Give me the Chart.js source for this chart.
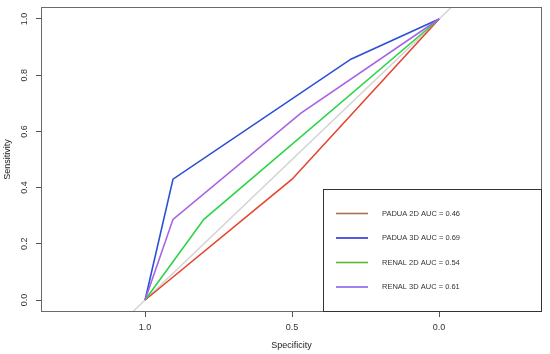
<!DOCTYPE html>
<html>
<head>
<meta charset="utf-8">
<script src="https://cdn.jsdelivr.net/npm/chart.js@4"></script>
<style>
  html, body { margin: 0; padding: 0; background: #fff; }
  canvas { display: block; }
</style>
</head>
<body>
<canvas id="rocChart" width="550" height="354"></canvas>
<script>
// series
const nombres = ["PADUA 2D", "PADUA 3D", "RENAL 2D", "RENAL 3D"];
const auc = [0.46, 0.69, 0.54, 0.61];

const padua2dSpec = [1, 0.5, 0];
const padua2dSens = [0, 0.43, 1];
const padua3dSpec = [1, 0.905, 0.3, 0];
const padua3dSens = [0, 0.43, 0.857, 1];
const renal2dSpec = [1, 0.8, 0];
const renal2dSens = [0, 0.287, 1];
const renal3dSpec = [1, 0.905, 0.47, 0];
const renal3dSens = [0, 0.287, 0.665, 1];

// linea de azar (se recorta al area)
const azarSpec = [1.4, -0.4];
const azarSens = [-0.4, 1.4];

const xTicks = [1.0, 0.5, 0.0];
const yTicks = [0.0, 0.2, 0.4, 0.6, 0.8, 1.0];

const coloresLinea = ["#e5452f", "#2a50d6", "#2bd446", "#a862e4"];
const coloresLeyenda = ["#a8724e", "#2a35d8", "#5ab53a", "#8a63e8"];

const pts = (xs, ys) => xs.map((x, i) => ({ x, y: ys[i] }));
const curvas = [
  pts(padua2dSpec, padua2dSens),
  pts(padua3dSpec, padua3dSens),
  pts(renal2dSpec, renal2dSens),
  pts(renal3dSpec, renal3dSens),
];

// caja del grafico + leyenda dentro del area
const cajaPlugin = {
  id: "caja",
  afterDraw(chart) {
    const { ctx, chartArea: a } = chart;
    ctx.save();
    ctx.strokeStyle = "#6a6a6a";
    ctx.lineWidth = 1;
    ctx.strokeRect(a.left + 0.5, a.top + 0.5, a.right - a.left - 1, a.bottom - a.top - 1);

    // leyenda
    const bx = a.right - 219;
    const by = a.bottom - 123;
    ctx.fillStyle = "#fff";
    ctx.fillRect(bx, by, 219, 123);
    ctx.strokeStyle = "#333";
    ctx.strokeRect(bx + 0.5, by + 0.5, 218, 122);
    ctx.font = "7.5px 'Liberation Sans', Arial, sans-serif";
    ctx.textBaseline = "middle";
    ctx.textAlign = "left";
    nombres.forEach((n, i) => {
      const yy = by + 24.5 + i * 24.5;
      ctx.strokeStyle = coloresLeyenda[i];
      ctx.lineWidth = 1.6;
      ctx.beginPath();
      ctx.moveTo(bx + 13, yy);
      ctx.lineTo(bx + 45, yy);
      ctx.stroke();
      ctx.fillStyle = "#333";
      ctx.fillText(n + " AUC = " + auc[i].toFixed(2), bx + 59, yy);
    });
    ctx.restore();
  },
};

new Chart(document.getElementById("rocChart"), {
  type: "line",
  data: {
    datasets: [
      {
        data: pts(azarSpec, azarSens),
        borderColor: "#d4d4d4",
        borderWidth: 1.5,
        pointRadius: 0,
        order: 10,
      },
      ...curvas.map((c, i) => ({
        label: nombres[i],
        data: c,
        borderColor: coloresLinea[i],
        borderWidth: 1.6,
        pointRadius: 0,
        tension: 0,
        order: 4 - i,
      })),
    ],
  },
  options: {
    responsive: false,
    animation: false,
    devicePixelRatio: 1,
    layout: { padding: { left: 0, top: 7, right: 8, bottom: 0 } },
    plugins: { legend: { display: false }, tooltip: { enabled: false } },
    scales: {
      x: {
        type: "linear",
        reverse: true,
        min: -0.35,
        max: 1.354,
        afterFit: (s) => {
          s.height = 42;
          s.paddingLeft = 0;
          s.paddingRight = 0;
        },
        afterBuildTicks: (s) => { s.ticks = xTicks.map((v) => ({ value: v })); },
        grid: { drawOnChartArea: false, tickLength: 5, color: "#555" },
        border: { display: false },
        ticks: {
          padding: 5,
          color: "#333",
          font: { family: "'Liberation Sans', Arial, sans-serif", size: 9 },
          callback: (v) => Number(v).toFixed(1),
        },
        title: {
          display: true,
          text: "Specificity",
          color: "#222",
          padding: { top: 0, bottom: 3 },
          font: { family: "'Liberation Sans', Arial, sans-serif", size: 9 },
        },
      },
      y: {
        type: "linear",
        min: -0.0427,
        max: 1.0427,
        afterFit: (s) => {
          s.width = 41;
          s.paddingTop = 0;
          s.paddingBottom = 0;
        },
        afterBuildTicks: (s) => { s.ticks = yTicks.map((v) => ({ value: v })); },
        grid: { drawOnChartArea: false, tickLength: 5, color: "#555" },
        border: { display: false },
        ticks: {
          minRotation: 90,
          maxRotation: 90,
          crossAlign: "center",
          padding: 5,
          color: "#333",
          font: { family: "'Liberation Sans', Arial, sans-serif", size: 9 },
          callback: (v) => Number(v).toFixed(1),
        },
        title: {
          display: true,
          text: "Sensitivity",
          color: "#222",
          padding: { top: 2, bottom: 0 },
          font: { family: "'Liberation Sans', Arial, sans-serif", size: 9 },
        },
      },
    },
  },
  plugins: [cajaPlugin],
});
</script>
</body>
</html>
